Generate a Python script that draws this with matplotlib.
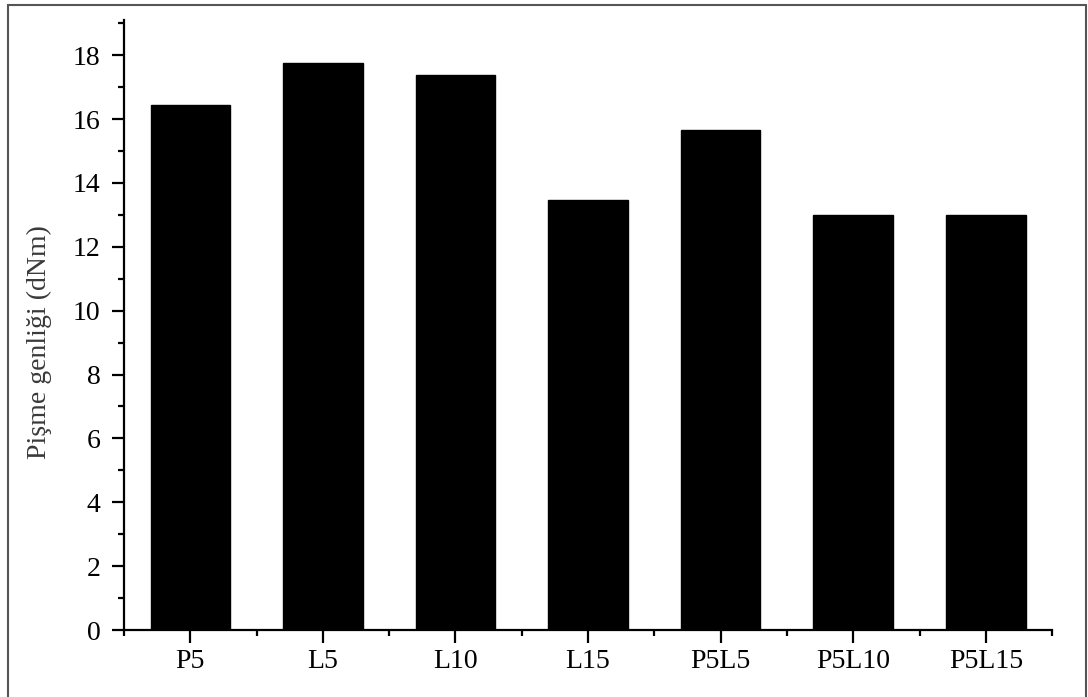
import matplotlib.pyplot as plt
from matplotlib.patches import Rectangle
from matplotlib.ticker import MultipleLocator, FixedLocator

# Pişme genliği ölçümleri (dNm)
numuneler = ["P5", "L5", "L10", "L15", "P5L5", "P5L10", "P5L15"]
genlik = [16.45, 17.75, 17.38, 13.47, 15.65, 12.99, 12.99]
y_ticks = [0, 2, 4, 6, 8, 10, 12, 14, 16, 18]

FONT = "Liberation Serif"

fig = plt.figure(figsize=(10.88, 6.97), dpi=100)
ax = fig.add_axes([0.114, 0.0961, 0.853, 0.8752])

x = list(range(len(numuneler)))
ax.bar(x, genlik, width=0.6, color="black", edgecolor="black")

ax.set_xlim(-0.5, len(numuneler) - 0.5)
ax.set_ylim(0, 19.1)

ax.set_xticks(x)
ax.set_xticklabels(numuneler, fontfamily=FONT, fontsize=20)
ax.set_yticks(y_ticks)
ax.set_yticklabels([str(v) for v in y_ticks], fontfamily=FONT, fontsize=20)
ax.xaxis.set_minor_locator(FixedLocator([i - 0.5 for i in range(len(numuneler) + 1)]))
ax.yaxis.set_minor_locator(MultipleLocator(1))

for s in ["top", "right"]:
    ax.spines[s].set_visible(False)
for s in ["left", "bottom"]:
    ax.spines[s].set_linewidth(1.6)

ax.tick_params(which="major", direction="out", length=9, width=1.6)
ax.tick_params(which="minor", direction="out", length=4.5, width=1.6)
ax.tick_params(axis="y", which="major", pad=8)
ax.tick_params(axis="x", which="major", pad=5)

ax.set_ylabel("Pişme genliği (dNm)", fontfamily=FONT, fontsize=20, color="#3a3a3a")
ax.yaxis.set_label_coords(-0.078, 0.472)

# dış çerçeve
fig.patches.append(Rectangle((8 / 1088, -0.01), 1078 / 1088, 1 - 5 / 697 + 0.01,
                             transform=fig.transFigure, fill=False,
                             edgecolor="#555555", linewidth=1.5))

fig.savefig("out.png", dpi=100)
